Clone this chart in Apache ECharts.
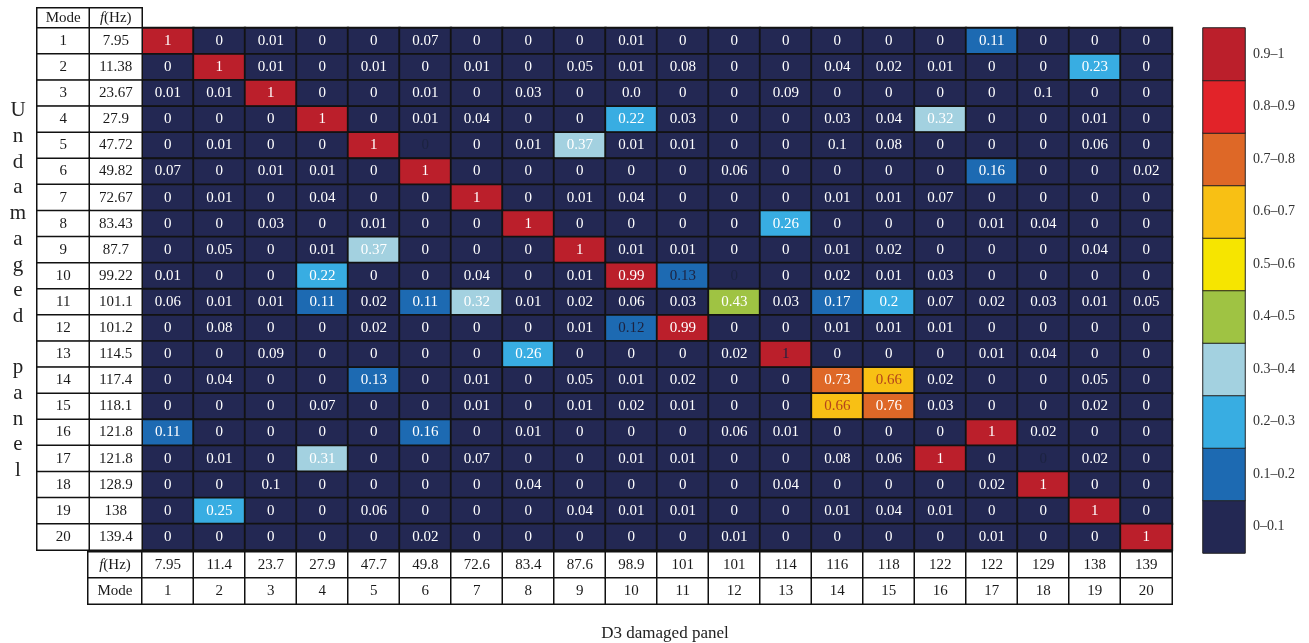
<!DOCTYPE html>
<html>
<head>
<meta charset="utf-8">
<script src="https://cdn.jsdelivr.net/npm/echarts@6/dist/echarts.min.js"></script>
<style>
  html, body { margin: 0; padding: 0; background: #fff; }
  #chart { width: 1309px; height: 643px; }
</style>
</head>
<body>
<div id="chart"></div>
<script>
// mode numbers and natural frequencies (undamaged rows, D3 damaged columns)
const modes = [1, 2, 3, 4, 5, 6, 7, 8, 9, 10, 11, 12, 13, 14, 15, 16, 17, 18, 19, 20]
const undamagedFreq = [7.95, 11.38, 23.67, 27.9, 47.72, 49.82, 72.67, 83.43, 87.7, 99.22,
  101.1, 101.2, 114.5, 117.4, 118.1, 121.8, 121.8, 128.9, 138, 139.4]
const damagedFreq = [7.95, 11.4, 23.7, 27.9, 47.7, 49.8, 72.6, 83.4, 87.6, 98.9,
  101, 101, 114, 116, 118, 122, 122, 129, 138, 139]

// MAC values, one row per undamaged mode
const mac = [
  [1, 0, 0.01, 0, 0, 0.07, 0, 0, 0, 0.01, 0, 0, 0, 0, 0, 0, 0.11, 0, 0, 0],
  [0, 1, 0.01, 0, 0.01, 0, 0.01, 0, 0.05, 0.01, 0.08, 0, 0, 0.04, 0.02, 0.01, 0, 0, 0.23, 0],
  [0.01, 0.01, 1, 0, 0, 0.01, 0, 0.03, 0, '0.0', 0, 0, 0.09, 0, 0, 0, 0, 0.1, 0, 0],
  [0, 0, 0, 1, 0, 0.01, 0.04, 0, 0, 0.22, 0.03, 0, 0, 0.03, 0.04, 0.32, 0, 0, 0.01, 0],
  [0, 0.01, 0, 0, 1, 0, 0, 0.01, 0.37, 0.01, 0.01, 0, 0, 0.1, 0.08, 0, 0, 0, 0.06, 0],
  [0.07, 0, 0.01, 0.01, 0, 1, 0, 0, 0, 0, 0, 0.06, 0, 0, 0, 0, 0.16, 0, 0, 0.02],
  [0, 0.01, 0, 0.04, 0, 0, 1, 0, 0.01, 0.04, 0, 0, 0, 0.01, 0.01, 0.07, 0, 0, 0, 0],
  [0, 0, 0.03, 0, 0.01, 0, 0, 1, 0, 0, 0, 0, 0.26, 0, 0, 0, 0.01, 0.04, 0, 0],
  [0, 0.05, 0, 0.01, 0.37, 0, 0, 0, 1, 0.01, 0.01, 0, 0, 0.01, 0.02, 0, 0, 0, 0.04, 0],
  [0.01, 0, 0, 0.22, 0, 0, 0.04, 0, 0.01, 0.99, 0.13, 0, 0, 0.02, 0.01, 0.03, 0, 0, 0, 0],
  [0.06, 0.01, 0.01, 0.11, 0.02, 0.11, 0.32, 0.01, 0.02, 0.06, 0.03, 0.43, 0.03, 0.17, 0.2, 0.07, 0.02, 0.03, 0.01, 0.05],
  [0, 0.08, 0, 0, 0.02, 0, 0, 0, 0.01, 0.12, 0.99, 0, 0, 0.01, 0.01, 0.01, 0, 0, 0, 0],
  [0, 0, 0.09, 0, 0, 0, 0, 0.26, 0, 0, 0, 0.02, 1, 0, 0, 0, 0.01, 0.04, 0, 0],
  [0, 0.04, 0, 0, 0.13, 0, 0.01, 0, 0.05, 0.01, 0.02, 0, 0, 0.73, 0.66, 0.02, 0, 0, 0.05, 0],
  [0, 0, 0, 0.07, 0, 0, 0.01, 0, 0.01, 0.02, 0.01, 0, 0, 0.66, 0.76, 0.03, 0, 0, 0.02, 0],
  [0.11, 0, 0, 0, 0, 0.16, 0, 0.01, 0, 0, 0, 0.06, 0.01, 0, 0, 0, 1, 0.02, 0, 0],
  [0, 0.01, 0, 0.31, 0, 0, 0.07, 0, 0, 0.01, 0.01, 0, 0, 0.08, 0.06, 1, 0, 0, 0.02, 0],
  [0, 0, 0.1, 0, 0, 0, 0, 0.04, 0, 0, 0, 0, 0.04, 0, 0, 0, 0.02, 1, 0, 0],
  [0, 0.25, 0, 0, 0.06, 0, 0, 0, 0.04, 0.01, 0.01, 0, 0, 0.01, 0.04, 0.01, 0, 0, 1, 0],
  [0, 0, 0, 0, 0, 0.02, 0, 0, 0, 0, 0, 0.01, 0, 0, 0, 0, 0.01, 0, 0, 1]
]

// cells whose number is printed in a dark / brown colour in the original [row, col]
const darkText = [[5, 6], [10, 11], [10, 12], [12, 10], [13, 13], [17, 18]]
const brownText = [[14, 15], [15, 14]]

// colour bins of the legend bar
const binLabels = ['0\u20130.1', '0.1\u20130.2', '0.2\u20130.3', '0.3\u20130.4', '0.4\u20130.5',
  '0.5\u20130.6', '0.6\u20130.7', '0.7\u20130.8', '0.8\u20130.9', '0.9\u20131']
const binValues = [0.05, 0.15, 0.25, 0.35, 0.45, 0.55, 0.65, 0.75, 0.85, 0.95]
const binColors = ['#232853', '#1d6ab2', '#38ade2', '#a3d1e0', '#9fc343',
  '#f6e500', '#f8c014', '#de6827', '#e22329', '#bb1f2b']

const serif = "'Liberation Serif', 'DejaVu Serif', serif"
const chart = echarts.init(document.getElementById('chart'))

const mainData = []
mac.forEach((row, r) => row.forEach((v, c) => {
  const item = {value: [c, r, Number(v)]}
  if (darkText.some(d => d[0] === r + 1 && d[1] === c + 1)) item.label = {color: '#1c2340'}
  if (brownText.some(d => d[0] === r + 1 && d[1] === c + 1)) item.label = {color: '#b4441c'}
  mainData.push(item)
}))

const barData = binValues.map((v, i) => [0, i, v])

const headData = [[0, 0, 0], [1, 0, 0]]
const leftData = []
modes.forEach((m, r) => { leftData.push([0, r, 0]); leftData.push([1, r, 0]) })
const footHeadData = [[0, 0, 0], [0, 1, 0]]
const footData = []
modes.forEach((m, c) => { footData.push([c, 0, 0]); footData.push([c, 1, 0]) })

const tableStyle = {color: '#fff', borderColor: '#111', borderWidth: 1.5}
const tableLabel = {show: true, color: '#1a1a1a', fontFamily: serif, fontSize: 15,
  rich: {i: {fontStyle: 'italic', fontFamily: serif, fontSize: 15, color: '#1a1a1a'}}}

function cat(n, grid, extra) {
  return Object.assign({type: 'category', gridIndex: grid, data: Array.from({length: n}, (_, i) => i),
    show: false}, extra || {})
}

const option = {
  animation: false,
  title: [
    {
      text: 'U\nn\nd\na\nm\na\ng\ne\nd\n\np\na\nn\ne\nl',
      left: 13, top: 93, textAlign: 'center',
      textStyle: {fontFamily: serif, fontSize: 21, fontWeight: 'normal', color: '#222', lineHeight: 25.7}
    },
    {
      text: 'D3 damaged panel', left: 660, top: 620, textAlign: 'center',
      textStyle: {fontFamily: serif, fontSize: 17, fontWeight: 'normal', color: '#222'}
    }
  ],
  grid: [
    {left: 142, top: 28, width: 1030, height: 522},   // main matrix
    {left: 1203, top: 28, width: 42, height: 525},    // colour bar
    {left: 37, top: 8, width: 105, height: 20},       // left header
    {left: 37, top: 28, width: 105, height: 522},     // left table
    {left: 88, top: 552, width: 54, height: 52},      // bottom header
    {left: 142, top: 552, width: 1030, height: 52}    // bottom table
  ],
  xAxis: [cat(20, 0), cat(1, 1), cat(2, 2), cat(2, 3), cat(1, 4), cat(20, 5)],
  yAxis: [
    cat(20, 0, {inverse: true}),
    {type: 'category', gridIndex: 1, data: binLabels, position: 'right',
      axisLine: {show: false}, axisTick: {show: false},
      axisLabel: {color: '#333', fontFamily: serif, fontSize: 14, margin: 8}},
    cat(1, 2),
    cat(20, 3, {inverse: true}),
    cat(2, 4, {inverse: true}),
    cat(2, 5, {inverse: true})
  ],
  visualMap: {
    type: 'piecewise', show: false, dimension: 2, seriesIndex: [0, 1],
    pieces: [
      {gte: 0, lte: 0.1, color: binColors[0]},
      {gt: 0.1, lt: 0.2, color: binColors[1]},
      {gte: 0.2, lt: 0.3, color: binColors[2]},
      {gte: 0.3, lt: 0.4, color: binColors[3]},
      {gte: 0.4, lt: 0.5, color: binColors[4]},
      {gte: 0.5, lt: 0.6, color: binColors[5]},
      {gte: 0.6, lt: 0.7, color: binColors[6]},
      {gte: 0.7, lt: 0.8, color: binColors[7]},
      {gte: 0.8, lt: 0.9, color: binColors[8]},
      {gte: 0.9, lte: 1, color: binColors[9]}
    ]
  },
  series: [
    {
      type: 'heatmap', xAxisIndex: 0, yAxisIndex: 0, data: mainData,
      itemStyle: {borderColor: '#121212', borderWidth: 1.8},
      label: {show: true, color: '#fff', fontFamily: serif, fontSize: 15,
        formatter: p => String(mac[p.value[1]][p.value[0]])},
      emphasis: {disabled: true}
    },
    {
      type: 'heatmap', xAxisIndex: 1, yAxisIndex: 1, data: barData,
      itemStyle: {borderColor: '#222', borderWidth: 1},
      emphasis: {disabled: true}
    },
    {
      type: 'heatmap', xAxisIndex: 2, yAxisIndex: 2, data: headData,
      itemStyle: tableStyle,
      label: Object.assign({}, tableLabel, {formatter: p => p.value[0] === 0 ? 'Mode' : '{i|f}(Hz)'}),
      emphasis: {disabled: true}
    },
    {
      type: 'heatmap', xAxisIndex: 3, yAxisIndex: 3, data: leftData,
      itemStyle: tableStyle,
      label: Object.assign({}, tableLabel, {
        formatter: p => String(p.value[0] === 0 ? modes[p.value[1]] : undamagedFreq[p.value[1]])}),
      emphasis: {disabled: true}
    },
    {
      type: 'heatmap', xAxisIndex: 4, yAxisIndex: 4, data: footHeadData,
      itemStyle: tableStyle,
      label: Object.assign({}, tableLabel, {formatter: p => p.value[1] === 0 ? '{i|f}(Hz)' : 'Mode'}),
      emphasis: {disabled: true}
    },
    {
      type: 'heatmap', xAxisIndex: 5, yAxisIndex: 5, data: footData,
      itemStyle: tableStyle,
      label: Object.assign({}, tableLabel, {
        formatter: p => String(p.value[1] === 0 ? damagedFreq[p.value[0]] : modes[p.value[0]])}),
      emphasis: {disabled: true}
    }
  ]
}

chart.setOption(option)
</script>
</body>
</html>
